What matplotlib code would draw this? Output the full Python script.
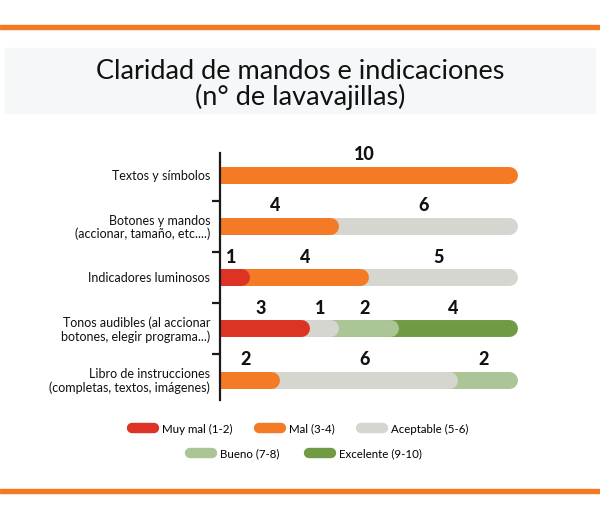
import matplotlib.pyplot as plt
from matplotlib.lines import Line2D
from matplotlib.patches import Rectangle
import numpy as np

# Datos
categorias = [
    "Textos y símbolos",
    "Botones y mandos\n(accionar, tamaño, etc....)",
    "Indicadores luminosos",
    "Tonos audibles (al accionar\nbotones, elegir programa...)",
    "Libro de instrucciones\n(completas, textos, imágenes)",
]
muy_mal = [0, 0, 1, 3, 0]
mal = [10, 4, 4, 0, 2]
aceptable = [0, 6, 5, 1, 6]
bueno = [0, 0, 0, 2, 2]
excelente = [0, 0, 0, 4, 0]

series = ["Muy mal (1-2)", "Mal (3-4)", "Aceptable (5-6)", "Bueno (7-8)", "Excelente (9-10)"]
valores = [muy_mal, mal, aceptable, bueno, excelente]
colores = ["#dc3324", "#f47a25", "#d6d6d1", "#abc596", "#719a45"]
naranja = "#f47920"

plt.rcParams["font.family"] = ["Lato", "DejaVu Sans"]

fig = plt.figure(figsize=(6, 5.19), dpi=100)
ax = fig.add_axes([220 / 600, 1 - 400 / 519, 306 / 600, 247 / 519])
ax.set_xlim(0, 10.3)
ax.set_ylim(4.4, -0.43)

# grosor de barra (pt) y radio en unidades de datos
lw = 12.2
px_por_unidad = 306 / 10.3
r = (lw / 72 * 100 / 2) / px_por_unidad

datos = np.array(valores)
acum = np.cumsum(datos, axis=0)

for fila in range(len(categorias)):
    # de derecha a izquierda, cada tramo tapa el extremo redondeado del siguiente
    for s in reversed(range(len(series))):
        v = datos[s, fila]
        if v == 0:
            continue
        fin = acum[s, fila]
        ax.plot([-1, fin - r], [fila, fila], color=colores[s], lw=lw,
                solid_capstyle="round", clip_on=True, zorder=2)
    for s in range(len(series)):
        v = datos[s, fila]
        if v == 0:
            continue
        centro = acum[s, fila] - v / 2
        ax.annotate(str(v), (centro, fila), xytext=(-3, 14.5), textcoords="offset points",
                    ha="center", va="center", fontsize=13, fontweight="black",
                    color="#111111")

# Ejes
for lado in ["top", "right", "bottom"]:
    ax.spines[lado].set_visible(False)
ax.spines["left"].set_linewidth(1.6)
ax.spines["left"].set_color("#1a1a1a")
ax.spines["left"].set_zorder(5)
ax.set_xticks([])
ax.set_yticks(range(len(categorias)))
ax.set_yticklabels(categorias, fontsize=9, linespacing=1.1, color="#111111")
ax.tick_params(axis="y", which="major", length=0, pad=7)
ax.set_yticks(np.arange(0.5, len(categorias) - 1, 1), minor=True)
ax.tick_params(axis="y", which="minor", length=6, width=1.6, color="#1a1a1a")

# Título con banda gris clara
fig.patches.append(Rectangle((5 / 600, 1 - 113 / 519), 590 / 600, 65 / 519,
                             transform=fig.transFigure, color="#f5f7f8", zorder=0))
fig.text(0.5, 1 - 72 / 519, "Claridad de mandos e indicaciones", ha="center", va="center",
         fontsize=19.5, color="#111111")
fig.text(0.5, 1 - 97 / 519, "(n° de lavavajillas)", ha="center", va="center",
         fontsize=19.5, color="#111111")

# Líneas naranjas
fig.patches.append(Rectangle((0, 1 - 29 / 519), 1, 4 / 519, transform=fig.transFigure,
                             color=naranja, zorder=0))
fig.patches.append(Rectangle((0, 1 - 493 / 519), 1, 4 / 519, transform=fig.transFigure,
                             color=naranja, zorder=0))

# Leyenda en dos filas
def manija(c):
    return Line2D([0], [0], color=c, lw=7.5, solid_capstyle="round")

fig.legend([manija(c) for c in colores[:3]], series[:3], loc="center",
           bbox_to_anchor=(0.5, 1 - 429 / 519), ncol=3, frameon=False,
           fontsize=8.3, handlelength=1.9, handletextpad=0.7, columnspacing=2.3)
fig.legend([manija(c) for c in colores[3:]], series[3:], loc="center",
           bbox_to_anchor=(306 / 600, 1 - 454 / 519), ncol=2, frameon=False,
           fontsize=8.3, handlelength=1.9, handletextpad=0.7, columnspacing=2.5)

fig.savefig("out.png", dpi=100)
